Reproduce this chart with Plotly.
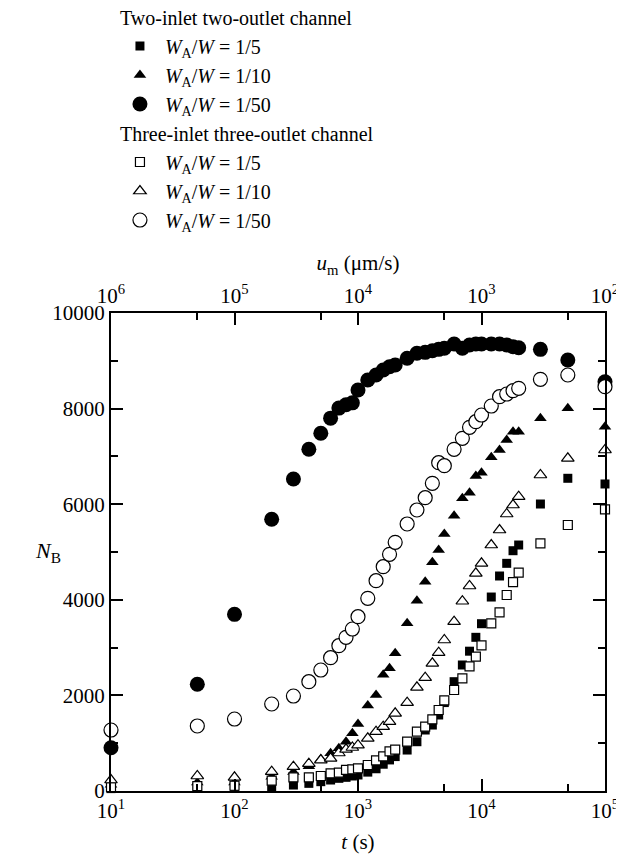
import plotly.graph_objects as go

t = [10, 50, 100, 200, 300, 400, 500, 600, 700, 800, 900, 1000, 1200, 1400, 1600, 1800,
     2000, 2500, 3000, 3500, 4000, 4500, 5000, 6000, 7000, 8000, 9000, 10000, 12000,
     14000, 16000, 18000, 20000, 30000, 50000, 100000]

# Two-inlet two-outlet channel
two_1_5 = [50, 60, 70, 90, 125, 160, 195, 230, 265, 286, 314, 335, 395, 465, 560, 650,
           720, 857, 1031, 1276, 1380, 1590, 1850, 2287, 2636, 2925, 3215, 3500, 4058,
           4498, 4763, 5027, 5146, 6004, 6542, 6423]
two_1_10 = [130, 180, 180, 300, 400, 520, 663, 789, 893, 1031, 1207, 1402, 1790, 2008, 2430, 2566,
            2880, 3508, 3980, 4380, 4784, 5042, 5377, 5760, 6123, 6241, 6590, 6660, 6981,
            7134, 7343, 7517, 7517, 7797, 8006, 7621]
two_1_50 = [906, 2232, 3696, 5684, 6527, 7150, 7483, 7800, 8010, 8080, 8120, 8389, 8598, 8703, 8808, 8877,
            8912, 9052, 9157, 9177, 9211, 9240, 9261, 9351, 9261, 9331, 9351, 9351, 9351,
            9351, 9331, 9295, 9274, 9240, 9017, 8563]

# Three-inlet three-outlet channel
three_1_5 = [80, 100, 110, 216, 286, 286, 314, 370, 383, 440, 453, 475, 544, 640, 725, 830,
             865, 1031, 1241, 1345, 1500, 1695, 1895, 2113, 2358, 2608, 2810, 3047, 3508,
             3738, 4100, 4370, 4567, 5182, 5565, 5893]
three_1_10 = [230, 314, 286, 404, 508, 572, 648, 684, 795, 872, 910, 960, 1102, 1241, 1345, 1450,
              1625, 1847, 2169, 2370, 2671, 2893, 3159, 3542, 3970, 4289, 4554, 4763, 5146,
              5460, 5795, 5983, 6157, 6611, 6960, 7134]
three_1_50 = [1276, 1360, 1506, 1820, 1987, 2287, 2531, 2789, 3040, 3215, 3389, 3646, 4031, 4400, 4692, 4952,
              5203, 5586, 5879, 6136, 6437, 6868, 6805, 7149, 7379, 7609, 7726, 7866, 8054,
              8249, 8305, 8374, 8425, 8613, 8703, 8458]

labels = ["<i>W</i><sub>A</sub>/<i>W</i> = 1/5",
          "<i>W</i><sub>A</sub>/<i>W</i> = 1/10",
          "<i>W</i><sub>A</sub>/<i>W</i> = 1/50"]

x_ticks = [10, 100, 1000, 10000, 100000]
x_ticktext = ["10<sup>1</sup>", "10<sup>2</sup>", "10<sup>3</sup>", "10<sup>4</sup>", "10<sup>5</sup>"]
x_minor = [50, 500, 5000, 50000]
u_ticks = [1e6, 1e5, 1e4, 1e3, 1e2]
u_ticktext = ["10<sup>6</sup>", "10<sup>5</sup>", "10<sup>4</sup>", "10<sup>3</sup>", "10<sup>2</sup>"]
u_minor = [2e5, 2e4, 2e3, 2e2]
y_ticks = [0, 2000, 4000, 6000, 8000, 10000]
y_ticktext = ["0", "2000", "4000", "6000", "8000", "10000"]

FONT = "Liberation Serif"
fig = go.Figure()

def add(y, symbol, size, filled, name, group, gtitle):
    fig.add_trace(go.Scatter(
        x=t, y=y, mode="markers", name=name,
        legendgroup=group, legendgrouptitle=dict(text=gtitle, font=dict(size=20, family=FONT, color="black")),
        marker=dict(symbol=symbol, size=size,
                    color="black" if filled else "white",
                    line=dict(color="black", width=0 if filled else 1.2)),
        cliponaxis=False,
    ))

g1 = "Two-inlet two-outlet channel"
g2 = "Three-inlet three-outlet channel"
add(two_1_5, "square", 9, True, labels[0], "g1", g1)
add(two_1_10, "triangle-up", 11, True, labels[1], "g1", g1)
add(two_1_50, "circle", 15, True, labels[2], "g1", g1)
add(three_1_5, "square", 9, False, labels[0], "g2", g2)
add(three_1_10, "triangle-up", 11, False, labels[1], "g2", g2)
add(three_1_50, "circle", 14, False, labels[2], "g2", g2)

# invisible trace for the top axis
fig.add_trace(go.Scatter(x=[1e6, 1e2], y=[0, 0], xaxis="x2", mode="markers",
                         marker=dict(opacity=0), showlegend=False, hoverinfo="skip"))

axis_common = dict(showline=True, linecolor="black", linewidth=2, ticks="inside",
                   tickcolor="black", tickwidth=2, ticklen=12, showgrid=False, zeroline=False,
                   automargin=False,
                   tickfont=dict(family=FONT, size=21, color="black"))

fig.update_layout(
    width=616, height=855,
    margin=dict(l=103, r=19, t=305, b=72, autoexpand=False),
    plot_bgcolor="white", paper_bgcolor="white",
    font=dict(family=FONT, size=21, color="black"),
    xaxis=dict(type="log", range=[1, 5], tickvals=x_ticks, ticktext=x_ticktext,
               minor=dict(tickvals=x_minor, ticks="inside", ticklen=7, tickwidth=2, tickcolor="black"),
               title=dict(text="<i>t</i> (s)", font=dict(family=FONT, size=21), standoff=12),
               **axis_common),
    xaxis2=dict(type="log", range=[6, 2], overlaying="x", side="top", anchor="y",
                tickvals=u_ticks, ticktext=u_ticktext,
                minor=dict(tickvals=u_minor, ticks="inside", ticklen=7, tickwidth=2, tickcolor="black"),
                title=dict(text="<i>u</i><sub>m</sub> (μm/s)", font=dict(family=FONT, size=21), standoff=4),
                **axis_common),
    yaxis=dict(range=[0, 10000], tickvals=y_ticks, ticktext=y_ticktext, mirror="ticks",
               minor=dict(dtick=1000, ticks="inside", ticklen=7, tickwidth=2, tickcolor="black"),
               **axis_common),
    legend=dict(x=0.008, xanchor="left", y=1.66, yref="paper", yanchor="top", tracegroupgap=0,
                font=dict(family=FONT, size=20, color="black"), bgcolor="rgba(0,0,0,0)",
                itemsizing="trace", itemwidth=40),
    annotations=[dict(text="<i>N</i><sub>B</sub>", x=-0.158, y=0.5, xref="paper", yref="paper",
                      showarrow=False, font=dict(family=FONT, size=22, color="black"))],
)

fig.write_html("out.html")
